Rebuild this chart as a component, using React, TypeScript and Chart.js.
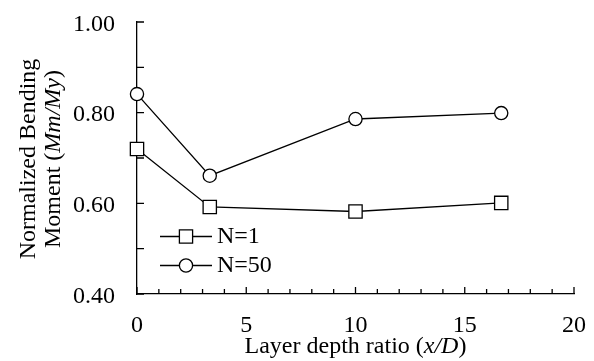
import React, { useEffect, useRef } from "react";
import { Chart, registerables } from "chart.js";

Chart.register(...registerables);

// ---- data ----
const xValues = [0, 3.33, 10, 16.67];
const seriesN1 = [0.72, 0.592, 0.582, 0.601];
const seriesN50 = [0.841, 0.661, 0.786, 0.799];
const seriesLabels = ["N=1", "N=50"];
const xTicks = [0, 5, 10, 15, 20];
const yTicks = [0.4, 0.6, 0.8, 1.0];
const xMinorTicks = [0, 1, 2, 3, 4, 5, 6, 7, 8, 9, 10, 11, 12, 13, 14, 15, 16, 17, 18, 19, 20];
const yMinorTicks = [0.4, 0.5, 0.6, 0.7, 0.8, 0.9, 1.0];
const xTitle = ["Layer depth ratio (", "x/D", ")"];
const yTitleLine1 = "Normalized Bending";
const yTitleLine2 = ["Moment (", "Mm/My", ")"];

const FONT = '"Liberation Serif", "Times New Roman", serif';
const FS = 24;

function drawMixed(ctx: CanvasRenderingContext2D, parts: string[], cx: number, baseY: number) {
  const fonts = [`${FS}px ${FONT}`, `italic ${FS}px ${FONT}`, `${FS}px ${FONT}`];
  const widths = parts.map((p, i) => {
    ctx.font = fonts[i];
    return ctx.measureText(p).width;
  });
  const total = widths.reduce((a, b) => a + b, 0);
  let x = cx - total / 2;
  ctx.textAlign = "left";
  ctx.textBaseline = "alphabetic";
  parts.forEach((p, i) => {
    ctx.font = fonts[i];
    ctx.fillText(p, x, baseY);
    x += widths[i];
  });
}

const tickPlugin = {
  id: "innerTicks",
  beforeDatasetsDraw(chart: any) {
    const { ctx, chartArea, scales } = chart;
    const x = scales.x;
    const y = scales.y;
    ctx.save();
    ctx.strokeStyle = "#000";
    ctx.lineWidth = 1.3;
    ctx.beginPath();
    for (const v of xMinorTicks) {
      const px = x.getPixelForValue(v);
      const len = v % 5 === 0 ? 7 : 5;
      ctx.moveTo(px, chartArea.bottom);
      ctx.lineTo(px, chartArea.bottom - len);
    }
    for (const v of yMinorTicks) {
      const py = y.getPixelForValue(v);
      ctx.moveTo(chartArea.left, py);
      ctx.lineTo(chartArea.left + 7, py);
    }
    ctx.stroke();

    // tick labels
    ctx.fillStyle = "#000";
    ctx.font = `${FS}px ${FONT}`;
    ctx.textBaseline = "alphabetic";
    ctx.textAlign = "center";
    for (const v of xTicks) {
      ctx.fillText(String(v), x.getPixelForValue(v), 331.5);
    }
    ctx.textAlign = "right";
    for (const v of yTicks) {
      ctx.fillText(v.toFixed(2), 115, y.getPixelForValue(v) + 8.5);
    }
    ctx.restore();
  },
};

const decorPlugin = {
  id: "decor",
  afterDraw(chart: any) {
    const { ctx, chartArea } = chart;
    ctx.save();
    ctx.fillStyle = "#000";
    // x title
    const cx = (chartArea.left + chartArea.right) / 2;
    drawMixed(ctx, xTitle, cx, 353);
    // y title
    const cy = (chartArea.top + chartArea.bottom) / 2 + 1;
    ctx.save();
    ctx.translate(35, cy);
    ctx.rotate(-Math.PI / 2);
    ctx.font = `${FS}px ${FONT}`;
    ctx.textAlign = "center";
    ctx.textBaseline = "alphabetic";
    ctx.fillText(yTitleLine1, 0, 0);
    ctx.restore();
    ctx.save();
    ctx.translate(60, cy);
    ctx.rotate(-Math.PI / 2);
    drawMixed(ctx, yTitleLine2, 0, 0);
    ctx.restore();

    // legend
    const rows = [236.5, 265.5];
    chart.data.datasets.forEach((ds: any, i: number) => {
      const ly = rows[i];
      ctx.strokeStyle = "#000";
      ctx.lineWidth = 1.3;
      ctx.beginPath();
      ctx.moveTo(160, ly);
      ctx.lineTo(212, ly);
      ctx.stroke();
      ctx.fillStyle = "#fff";
      ctx.beginPath();
      if (ds.pointStyle === "rect") {
        const s = 6.6;
        ctx.rect(186 - s, ly - s, 2 * s, 2 * s);
      } else {
        ctx.arc(186, ly, ds.pointRadius, 0, Math.PI * 2);
      }
      ctx.fill();
      ctx.stroke();
      ctx.fillStyle = "#000";
      ctx.font = `${FS}px ${FONT}`;
      ctx.textAlign = "left";
      ctx.textBaseline = "alphabetic";
      ctx.fillText(ds.label, 217, ly + 6);
    });
    ctx.restore();
  },
};

export default function App() {
  const ref = useRef<HTMLCanvasElement | null>(null);
  useEffect(() => {
    if (!ref.current) return;
    const mk = (vals: number[]) => xValues.map((x, i) => ({ x, y: vals[i] }));
    const chart = new Chart(ref.current, {
      type: "line",
      data: {
        datasets: [
          {
            label: seriesLabels[0],
            data: mk(seriesN1),
            borderColor: "#000",
            borderWidth: 1.3,
            backgroundColor: "#fff",
            pointStyle: "rect",
            pointRadius: 9.4,
            pointBorderWidth: 1.3,
            pointBackgroundColor: "#fff",
            pointBorderColor: "#000",
            tension: 0,
            clip: false,
          },
          {
            label: seriesLabels[1],
            data: mk(seriesN50),
            borderColor: "#000",
            borderWidth: 1.3,
            backgroundColor: "#fff",
            pointStyle: "circle",
            pointRadius: 6.6,
            pointBorderWidth: 1.3,
            pointBackgroundColor: "#fff",
            pointBorderColor: "#000",
            tension: 0,
            clip: false,
          },
        ],
      },
      options: {
        animation: false,
        responsive: false,
        maintainAspectRatio: false,
        layout: { padding: { top: 22, right: 20, left: 0, bottom: 0 } },
        plugins: { legend: { display: false }, tooltip: { enabled: false } },
        scales: {
          x: {
            type: "linear",
            min: 0,
            max: 20,
            afterBuildTicks: (s: any) => {
              s.ticks = xTicks.map((v) => ({ value: v }));
            },
            afterFit: (s: any) => {
              s.height = 67;
            },
            grid: { display: false, drawTicks: false },
            border: { display: true, color: "#000", width: 1.3 },
            ticks: { display: false },
          },
          y: {
            type: "linear",
            min: 0.4,
            max: 1.0,
            afterBuildTicks: (s: any) => {
              s.ticks = yTicks.map((v) => ({ value: v }));
            },
            afterFit: (s: any) => {
              s.width = 137;
            },
            grid: { display: false, drawTicks: false },
            border: { display: true, color: "#000", width: 1.3 },
            ticks: { display: false },
          },
        },
      },
      plugins: [tickPlugin, decorPlugin],
    });
    return () => chart.destroy();
  }, []);
  return (
    <div style={{ position: "fixed", left: 0, top: 0, width: 594, height: 361, background: "#fff" }}>
      <canvas ref={ref} width={594} height={361} style={{ width: 594, height: 361, display: "block" }} />
    </div>
  );
}
